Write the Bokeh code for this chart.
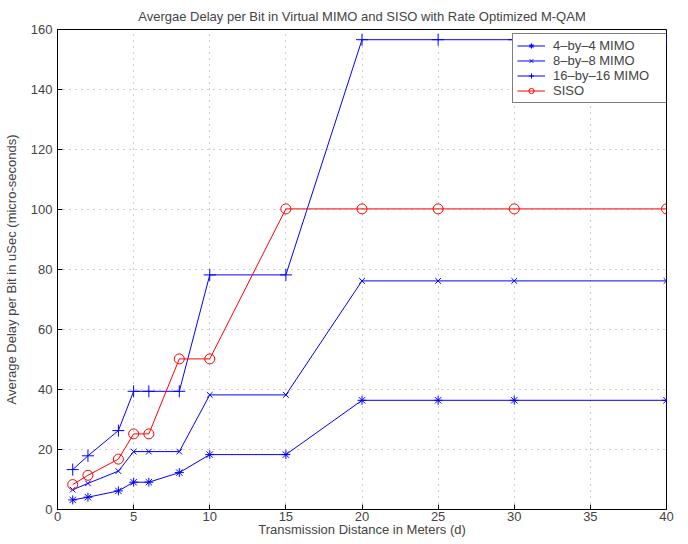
from bokeh.plotting import figure
from bokeh.embed import file_html
from bokeh.resources import INLINE
from bokeh.models import FixedTicker, Range1d

distance = [1, 2, 4, 5, 6, 8, 10, 15, 20, 25, 30, 40]
mimo4 = [3.2, 4.1, 6.2, 9.1, 9.1, 12.3, 18.3, 18.3, 36.4, 36.4, 36.4, 36.4]
mimo8 = [6.6, 8.7, 12.8, 19.3, 19.3, 19.3, 38.2, 38.2, 76.2, 76.2, 76.2, 76.2]
mimo16 = [13.3, 17.9, 26.3, 39.4, 39.4, 39.4, 78.2, 78.2, 156.6, 156.6, 156.6, 156.6]
siso = [8.3, 11.4, 16.8, 25.2, 25.2, 50.2, 50.2, 100.2, 100.2, 100.2, 100.2, 100.2]

xticks = [0, 5, 10, 15, 20, 25, 30, 35, 40]
yticks = [0, 20, 40, 60, 80, 100, 120, 140, 160]
xlabel = "Transmission Distance in Meters (d)"
ylabel = "Average Delay per Bit in uSec (micro-seconds)"

FONT = "Liberation Sans"
FS = "13px"

p = figure(width=688, height=544, output_backend="svg", toolbar_location=None,
           x_range=Range1d(0, 40), y_range=Range1d(0, 160),
           title="Avergae Delay per Bit in Virtual MIMO and SISO with Rate Optimized M-QAM",
           min_border_left=5, min_border_right=22, min_border_top=0, min_border_bottom=35)

p.title.align = "center"
p.title.text_font = FONT
p.title.text_font_style = "normal"
p.title.text_font_size = FS
p.title.offset = 0
p.title.standoff = 12

p.outline_line_color = "black"
p.outline_line_width = 1
p.background_fill_color = "white"

for ax, ticks in ((p.xaxis[0], xticks), (p.yaxis[0], yticks)):
    ax.ticker = FixedTicker(ticks=ticks)
    ax.major_tick_in = 5
    ax.major_tick_out = 0
    ax.minor_tick_line_color = None
    ax.axis_line_color = "black"
    ax.major_label_text_font = FONT
    ax.major_label_text_font_size = FS
    ax.axis_label_text_font = FONT
    ax.axis_label_text_font_size = FS
    ax.axis_label_text_font_style = "normal"

p.xaxis[0].axis_label = xlabel
p.xaxis[0].major_label_standoff = 2
p.xaxis[0].axis_label_standoff = -2
p.yaxis[0].axis_label = ylabel
p.yaxis[0].major_label_standoff = 5
p.yaxis[0].axis_label_standoff = 9

p.xgrid.ticker = FixedTicker(ticks=xticks)
p.ygrid.ticker = FixedTicker(ticks=yticks)
p.grid.grid_line_color = "#888888"
p.grid.grid_line_dash = "1 5"
p.grid.grid_line_alpha = 0.8

blue = "#0000ff"
red = "#ff0000"

series = [
    (mimo4, blue, "asterisk", "4\u2013by\u20134 MIMO", 9),
    (mimo8, blue, "x", "8\u2013by\u20138 MIMO", 8),
    (mimo16, blue, "cross", "16\u2013by\u201316 MIMO", 12),
    (siso, red, "circle", "SISO", 10),
]
for ys, c, m, lab, sz in series:
    p.line(distance, ys, line_color=c, line_width=1, legend_label=lab)
    p.scatter(distance, ys, marker=m, size=sz, line_color=c, fill_color=None,
              line_width=1, legend_label=lab)

lg = p.legend[0]
lg.location = (455, 406)
lg.margin = 0
lg.padding = 4
lg.spacing = 0
lg.label_text_font = FONT
lg.label_text_font_size = FS
lg.label_height = 13
lg.glyph_height = 13
lg.glyph_width = 28
lg.label_standoff = 8
lg.label_width = 113
lg.border_line_color = "black"
lg.border_line_width = 1
lg.background_fill_alpha = 1.0

open("out.html", "w").write(file_html(p, INLINE))
